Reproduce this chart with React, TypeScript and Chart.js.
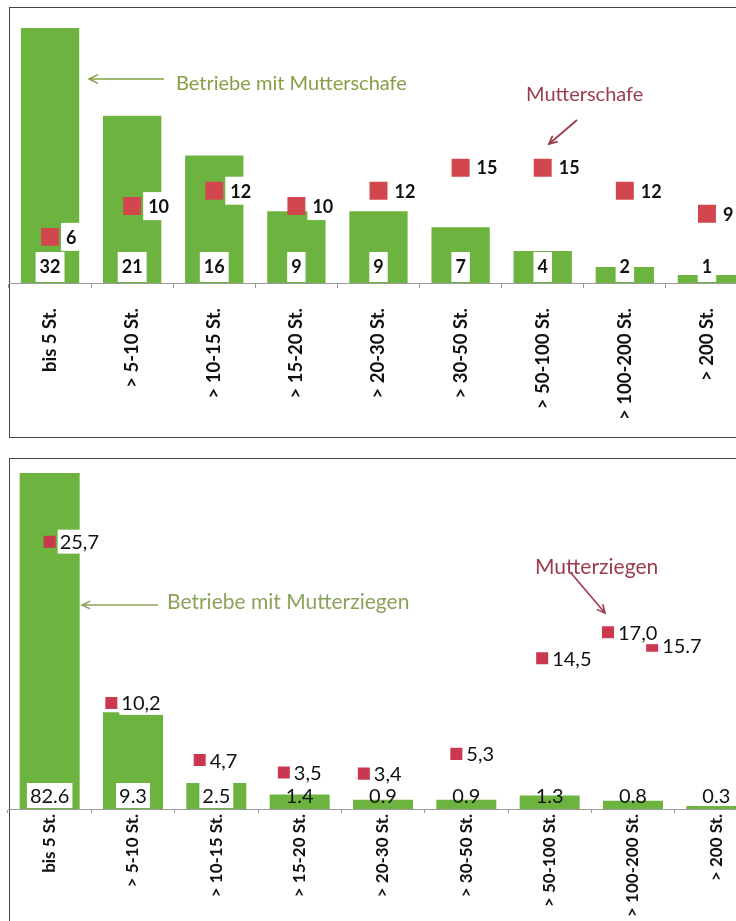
import React, { useEffect, useRef } from 'react';
import { Chart, registerables } from 'chart.js';

Chart.register(...registerables);

// ---------- data ----------
const categories = [
  'bis 5 St.',
  '> 5-10 St.',
  '> 10-15 St.',
  '> 15-20 St.',
  '> 20-30 St.',
  '> 30-50 St.',
  '> 50-100 St.',
  '> 100-200 St.',
  '> 200 St.',
];

// Schafe (top chart)
const sheepFarms = [32, 21, 16, 9, 9, 7, 4, 2, 1];
const sheepEwes = [6, 10, 12, 10, 12, 15, 15, 12, 9];

// Ziegen (bottom chart)
const goatFarms = [82.6, 9.3, 2.5, 1.4, 0.9, 0.9, 1.3, 0.8, 0.3];
const goatFarmLabels = ['82.6', '9.3', '2.5', '1.4', '0.9', '0.9', '1.3', '0.8', '0.3'];
const goatEwes = [25.7, 10.2, 4.7, 3.5, 3.4, 5.3, 14.5, 17.0, 15.7];
const goatEweLabels = ['25,7', '10,2', '4,7', '3,5', '3,4', '5,3', '14,5', '17,0', '15.7'];
// horizontal position of each goat marker along the category axis (category index units)
const goatEwePos = [0, 0.74, 1.8, 2.81, 3.77, 4.88, 5.91, 6.7, 7.23];

// ---------- styles ----------
const GREEN = '#6db33f';
const RED_TOP = '#d2474d';
const RED_BOT = '#c9384f';
const OLIVE = '#83a046';
const OLIVE2 = '#8aa35a';
const DARKRED = '#9c3b4b';
const AXIS = '#9a9a9a';
const FONT = 'Lato, "Open Sans", sans-serif';

function arrow(ctx: CanvasRenderingContext2D, x1: number, y1: number, x2: number, y2: number, color: string, head = 9, width = 1.5) {
  ctx.save();
  ctx.strokeStyle = color;
  ctx.lineWidth = width;
  ctx.beginPath();
  ctx.moveTo(x1, y1);
  ctx.lineTo(x2, y2);
  ctx.stroke();
  const a = Math.atan2(y2 - y1, x2 - x1);
  ctx.beginPath();
  ctx.moveTo(x2 - head * Math.cos(a - 0.45), y2 - head * Math.sin(a - 0.45));
  ctx.lineTo(x2, y2);
  ctx.lineTo(x2 - head * Math.cos(a + 0.45), y2 - head * Math.sin(a + 0.45));
  ctx.stroke();
  ctx.restore();
}

function frame(ctx: CanvasRenderingContext2D, w: number, h: number, top: number, bottom: number) {
  ctx.save();
  ctx.fillStyle = '#fff';
  ctx.fillRect(0, 0, w, h);
  ctx.strokeStyle = '#444';
  ctx.lineWidth = 1;
  ctx.strokeRect(9.5, top + 0.5, w + 50, bottom - top);
  ctx.restore();
}

function xAxis(fontSize: number, tickLen: number, pad: number, height: number) {
  return {
    type: 'category' as const,
    offset: true,
    grid: { display: true, drawOnChartArea: false, drawTicks: true, tickLength: tickLen, color: AXIS, offset: true },
    border: { display: true, color: AXIS, width: 1 },
    ticks: {
      minRotation: 90,
      maxRotation: 90,
      autoSkip: false,
      padding: pad,
      color: '#111',
      font: { family: FONT, size: fontSize, weight: 'bold' as const },
    },
    afterFit: (s: any) => {
      s.height = height;
      s.paddingLeft = 0;
      s.paddingRight = 0;
    },
  };
}

// marker dataset: points only, placed on the category axis (x = category index)
function markerSet(values: number[], pos: number[], yAxisID: string, color: string, radius: number) {
  return {
    type: 'line' as const,
    parsing: false,
    data: values.map((v, i) => ({ x: pos[i], y: v })),
    xAxisID: 'x',
    yAxisID,
    showLine: false,
    pointStyle: 'rect',
    pointRadius: radius,
    pointHoverRadius: radius,
    pointBackgroundColor: color,
    pointBorderColor: color,
    pointBorderWidth: 0,
    backgroundColor: color,
    borderColor: color,
    borderWidth: 0,
    order: 0,
  };
}

const TOP_W = 780;
const TOP_H = 440;
const BOT_W = 780;
const BOT_H = 471;

export default function App() {
  const topRef = useRef<HTMLCanvasElement>(null);
  const botRef = useRef<HTMLCanvasElement>(null);

  useEffect(() => {
    const topChart = new Chart(topRef.current!, {
      type: 'bar',
      data: {
        labels: categories,
        datasets: [
          markerSet(sheepEwes, sheepEwes.map((_, i) => i), 'y2', RED_TOP, 12.7) as any,
          {
            type: 'bar',
            data: sheepFarms,
            backgroundColor: GREEN,
            grouped: false,
            barPercentage: 0.71,
            categoryPercentage: 1,
            xAxisID: 'x',
            yAxisID: 'y',
            order: 1,
          },
        ],
      },
      options: {
        animation: false,
        responsive: false,
        devicePixelRatio: 1,
        layout: { autoPadding: false, padding: { left: 9, right: TOP_W - 748, top: 20, bottom: 0 } },
        plugins: { legend: { display: false }, tooltip: { enabled: false } },
        scales: {
          x: xAxis(18.5, 5, 20, TOP_H - 283) as any,
          y: { display: false, min: 0, max: 33 },
          y2: { display: false, min: 0, max: 34.2 },
        },
      },
      plugins: [
        {
          id: 'decor',
          beforeDraw(chart: any) {
            frame(chart.ctx, TOP_W, TOP_H, 7, 437);
          },
          afterDatasetsDraw(chart: any) {
            const ctx = chart.ctx as CanvasRenderingContext2D;
            const x = chart.scales.x;
            const y2 = chart.scales.y2;
            const bottom = chart.chartArea.bottom;
            ctx.save();
            ctx.font = `bold 18px ${FONT}`;
            ctx.textBaseline = 'middle';
            // bar value labels
            sheepFarms.forEach((v, i) => {
              const cx = x.getPixelForValue(i);
              const t = String(v);
              const w = ctx.measureText(t).width;
              ctx.fillStyle = '#fff';
              ctx.fillRect(cx - w / 2 - 4, bottom - 31, w + 8, 30);
              ctx.fillStyle = '#111';
              ctx.textAlign = 'center';
              ctx.fillText(t, cx, bottom - 16);
            });
            // marker labels
            sheepEwes.forEach((v, i) => {
              const px = x.getPixelForValue(i);
              const py = y2.getPixelForValue(v);
              const t = String(v);
              const w = ctx.measureText(t).width;
              ctx.fillStyle = '#fff';
              ctx.fillRect(px + 11, py - 14, w + 9, 28);
              ctx.fillStyle = '#111';
              ctx.textAlign = 'left';
              ctx.fillText(t, px + 16, py + 1);
            });
            ctx.restore();
          },
          afterDraw(chart: any) {
            const ctx = chart.ctx as CanvasRenderingContext2D;
            ctx.save();
            ctx.font = `20px ${FONT}`;
            ctx.textBaseline = 'middle';
            ctx.textAlign = 'left';
            ctx.fillStyle = OLIVE;
            ctx.fillText('Betriebe mit Mutterschafe', 176, 84);
            arrow(ctx, 164, 79, 89, 79, OLIVE, 10, 1.5);
            ctx.fillStyle = DARKRED;
            ctx.fillText('Mutterschafe', 526, 95);
            arrow(ctx, 577, 120, 549, 144, DARKRED, 9, 1.8);
            ctx.restore();
          },
        },
      ],
    } as any);

    const botChart = new Chart(botRef.current!, {
      type: 'bar',
      data: {
        labels: categories,
        datasets: [
          markerSet(goatEwes, goatEwePos, 'y', RED_BOT, 8.5) as any,
          {
            type: 'bar',
            data: goatFarms,
            backgroundColor: GREEN,
            grouped: false,
            barPercentage: 0.72,
            categoryPercentage: 1,
            xAxisID: 'x',
            yAxisID: 'y',
            order: 1,
          },
        ],
      },
      options: {
        animation: false,
        responsive: false,
        devicePixelRatio: 1,
        layout: { autoPadding: false, padding: { left: 8, right: BOT_W - 758, top: 23, bottom: 0 } },
        plugins: { legend: { display: false }, tooltip: { enabled: false } },
        scales: {
          x: xAxis(17, 4, 1, BOT_H - 359) as any,
          y: { display: false, min: 0, max: 32.3 },
        },
      },
      plugins: [
        {
          id: 'decor2',
          beforeDraw(chart: any) {
            frame(chart.ctx, BOT_W, BOT_H, 8, BOT_H + 50);
          },
          afterDatasetsDraw(chart: any) {
            const ctx = chart.ctx as CanvasRenderingContext2D;
            const x = chart.scales.x;
            const y = chart.scales.y;
            const bottom = chart.chartArea.bottom;
            ctx.save();
            ctx.font = `20px ${FONT}`;
            ctx.textBaseline = 'middle';
            goatFarms.forEach((v, i) => {
              const cx = x.getPixelForValue(i);
              const t = goatFarmLabels[i];
              const w = ctx.measureText(t).width;
              const barH = bottom - y.getPixelForValue(v);
              if (barH >= 24) {
                ctx.fillStyle = '#fff';
                ctx.fillRect(cx - w / 2 - 3, bottom - 26, w + 6, 25);
              }
              ctx.fillStyle = '#111';
              ctx.textAlign = 'center';
              ctx.fillText(t, cx, bottom - 12);
            });
            goatEwes.forEach((v, i) => {
              const px = x.getPixelForValue(goatEwePos[i]);
              const py = y.getPixelForValue(v);
              const t = goatEweLabels[i];
              const w = ctx.measureText(t).width;
              ctx.fillStyle = '#fff';
              ctx.fillRect(px + 8, py - 12, w + 6, 24);
              ctx.fillStyle = '#111';
              ctx.textAlign = 'left';
              ctx.fillText(t, px + 10, py + 1);
            });
            ctx.restore();
          },
          afterDraw(chart: any) {
            const ctx = chart.ctx as CanvasRenderingContext2D;
            ctx.save();
            ctx.font = `21px ${FONT}`;
            ctx.textBaseline = 'middle';
            ctx.textAlign = 'left';
            ctx.fillStyle = OLIVE2;
            ctx.fillText('Betriebe mit Mutterziegen', 167, 152);
            arrow(ctx, 158, 155, 82, 155, OLIVE2, 9, 1.5);
            ctx.fillStyle = DARKRED;
            ctx.fillText('Mutterziegen', 535, 117);
            arrow(ctx, 571, 123, 605, 163, DARKRED, 9, 1.6);
            ctx.restore();
          },
        },
      ],
    } as any);

    return () => {
      topChart.destroy();
      botChart.destroy();
    };
  }, []);

  return (
    <div
      style={{
        position: 'fixed',
        left: 0,
        top: 0,
        width: 736,
        height: 921,
        overflow: 'hidden',
        background: '#fff',
      }}
    >
      <canvas
        ref={topRef}
        width={TOP_W}
        height={TOP_H}
        style={{ position: 'absolute', left: 0, top: 0, width: TOP_W, height: TOP_H }}
      />
      <canvas
        ref={botRef}
        width={BOT_W}
        height={BOT_H}
        style={{ position: 'absolute', left: 0, top: 450, width: BOT_W, height: BOT_H }}
      />
    </div>
  );
}
